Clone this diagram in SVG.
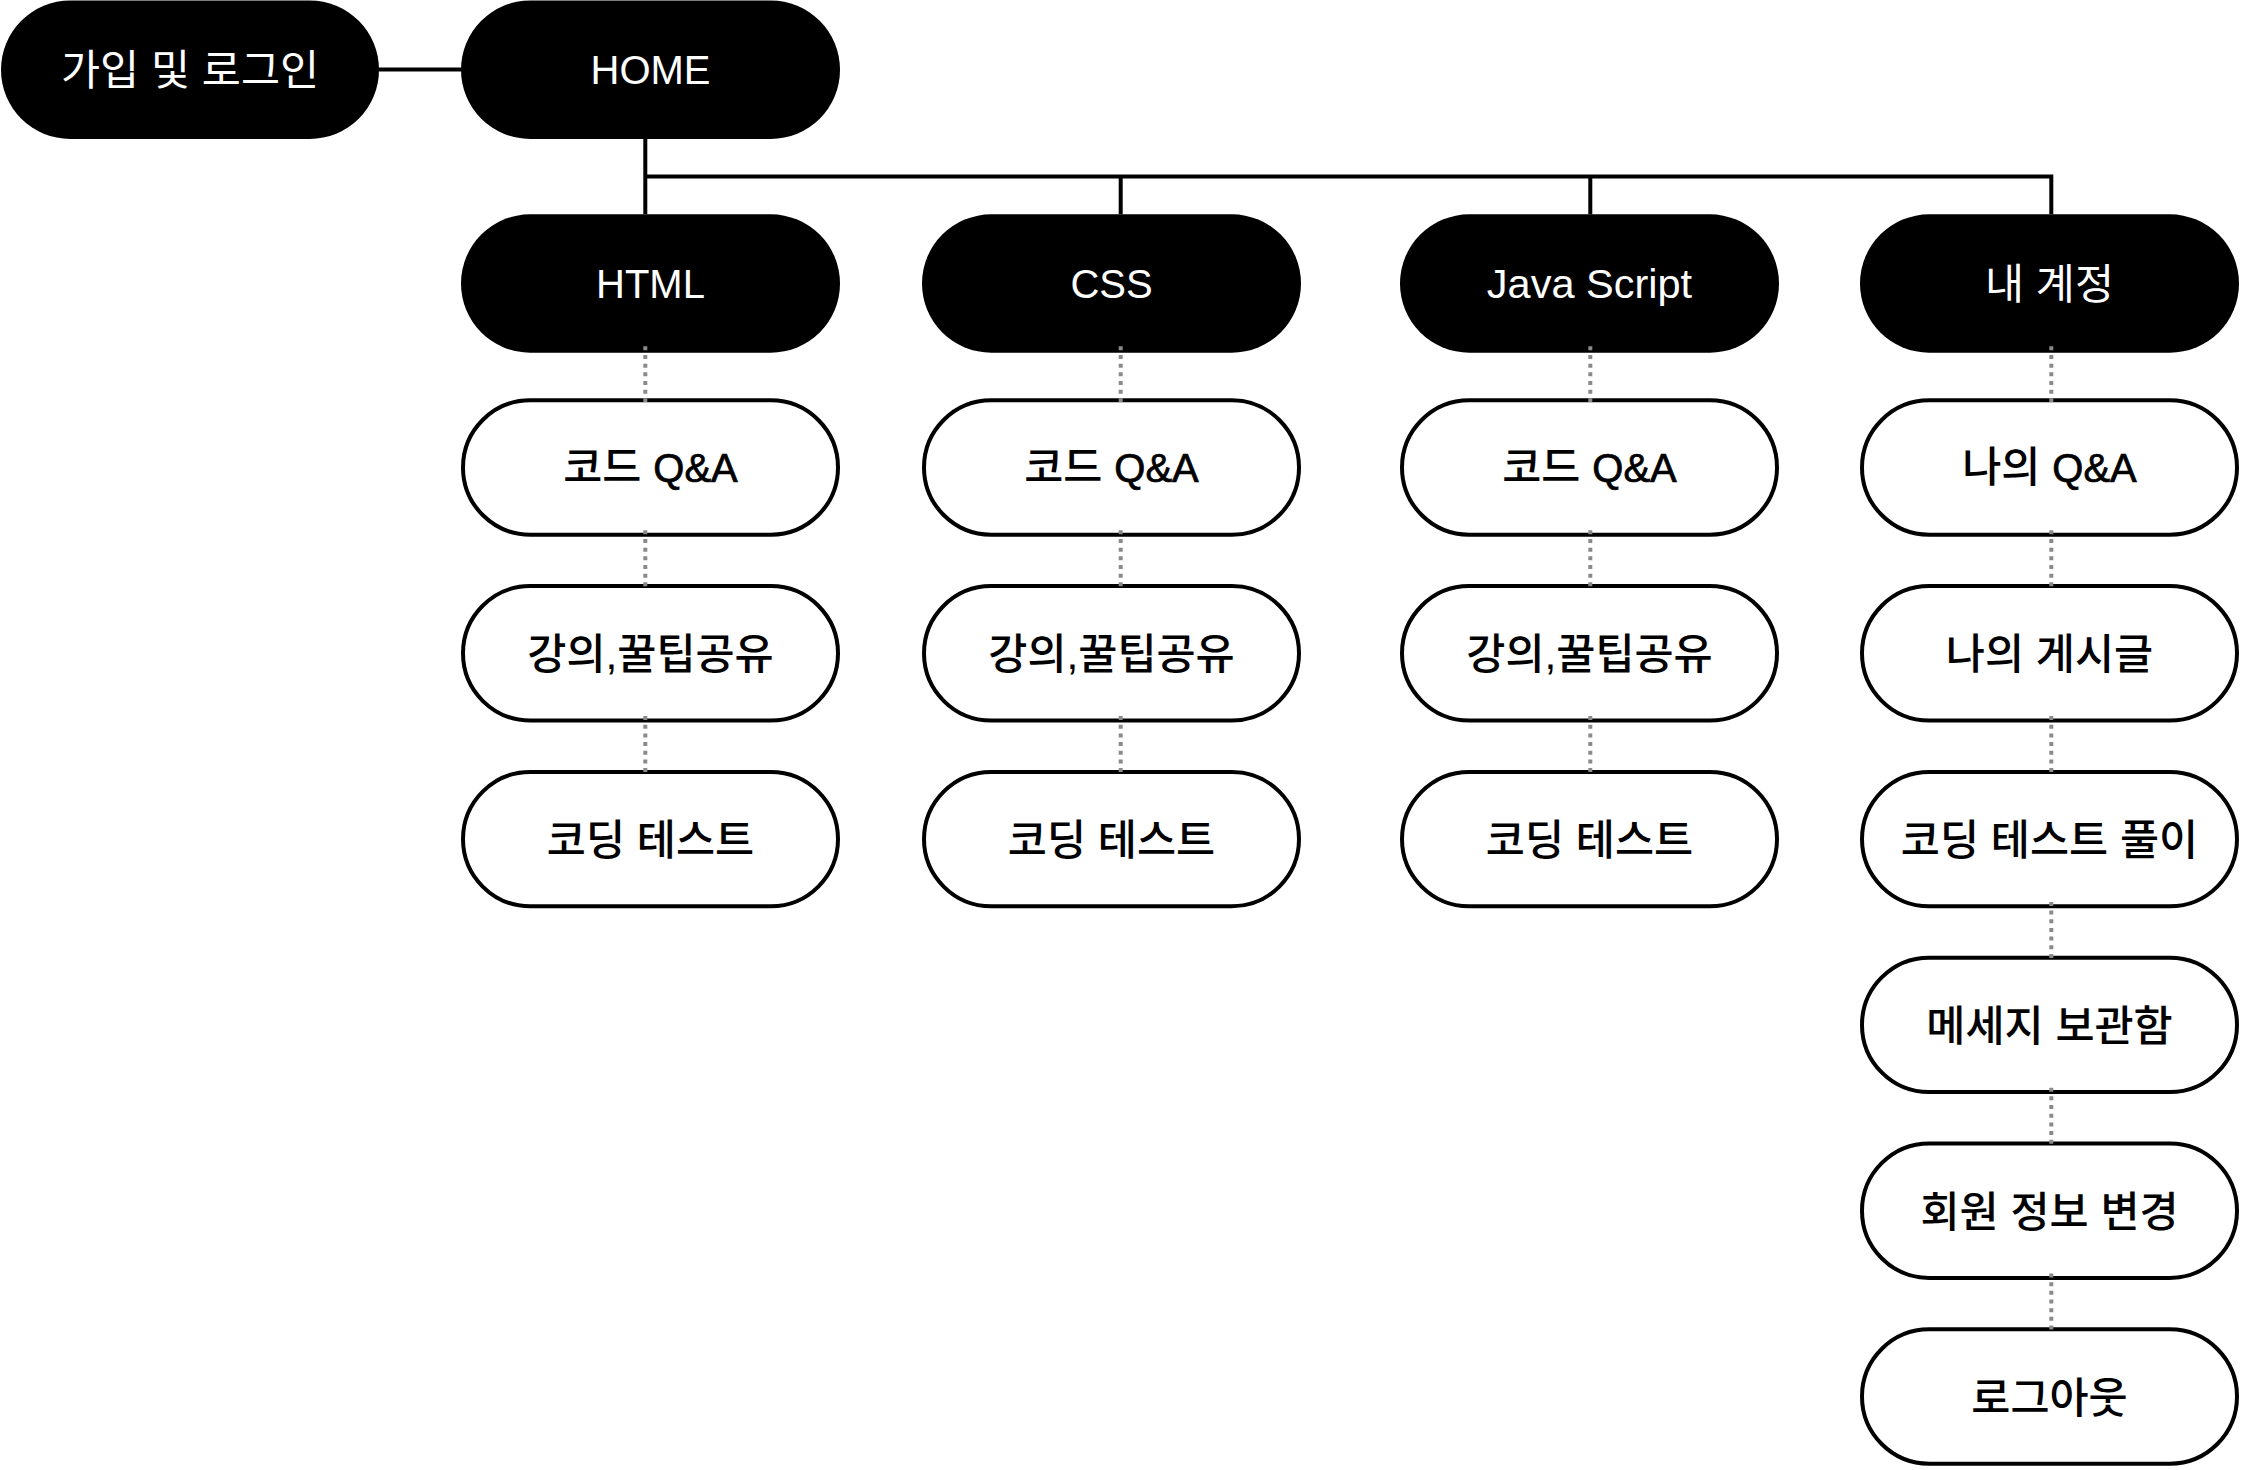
<svg xmlns="http://www.w3.org/2000/svg" width="2244" height="1470" viewBox="0 0 2244 1470">
<style>
.dark rect{fill:#000}
.light rect{fill:#fff;stroke:#000;stroke-width:4}
text{font-family:"Liberation Sans","Noto Sans CJK KR",sans-serif;font-size:42.5px;text-anchor:middle}
.lat{font-size:40px}
.dark text{fill:#fff}
.light text{fill:#000;font-weight:500}
.light .lat{stroke:#000;stroke-width:0.7px}
.solid{stroke:#000;stroke-width:4;fill:none}
.dot{stroke:#8a8a8a;stroke-width:4;fill:none;stroke-dasharray:4 4.67}
</style>
<rect width="2244" height="1470" fill="#fff"/>
<g id="n-login" class="dark"><rect x="1" y="0.5" width="378" height="138.4" rx="69.2"/><text x="190" y="84.5">가입 및 로그인</text></g>
<g id="n-home" class="dark"><rect x="461" y="0.5" width="379" height="138.4" rx="69.2"/><text class="lat" x="650.5" y="84">HOME</text></g>
<g id="n-html" class="dark"><rect x="461" y="214.3" width="379" height="138.4" rx="69.2"/><text class="lat" x="650.5" y="298">HTML</text></g>
<g id="n-css" class="dark"><rect x="922" y="214.3" width="379" height="138.4" rx="69.2"/><text class="lat" x="1111.5" y="298">CSS</text></g>
<g id="n-js" class="dark"><rect x="1400" y="214.3" width="379" height="138.4" rx="69.2"/><text x="1589.5" y="298" style="font-size:41.5px">Java Script</text></g>
<g id="n-account" class="dark"><rect x="1860" y="214.3" width="379" height="138.4" rx="69.2"/><text x="2049.5" y="298.5">내 계정</text></g>

<g id="n-html-qa" class="light"><rect x="463" y="400.3" width="375" height="134.4" rx="67.2"/><text x="650.5" y="482">코드 <tspan class="lat">Q&amp;A</tspan></text></g>
<g id="n-html-tip" class="light"><rect x="463" y="586.1" width="375" height="134.4" rx="67.2"/><text x="650.5" y="668.5">강의,꿀팁공유</text></g>
<g id="n-html-test" class="light"><rect x="463" y="771.9" width="375" height="134.4" rx="67.2"/><text x="650.5" y="854.5">코딩 테스트</text></g>

<g id="n-css-qa" class="light"><rect x="924" y="400.3" width="375" height="134.4" rx="67.2"/><text x="1111.5" y="482">코드 <tspan class="lat">Q&amp;A</tspan></text></g>
<g id="n-css-tip" class="light"><rect x="924" y="586.1" width="375" height="134.4" rx="67.2"/><text x="1111.5" y="668.5">강의,꿀팁공유</text></g>
<g id="n-css-test" class="light"><rect x="924" y="771.9" width="375" height="134.4" rx="67.2"/><text x="1111.5" y="854.5">코딩 테스트</text></g>

<g id="n-js-qa" class="light"><rect x="1402" y="400.3" width="375" height="134.4" rx="67.2"/><text x="1589.5" y="482">코드 <tspan class="lat">Q&amp;A</tspan></text></g>
<g id="n-js-tip" class="light"><rect x="1402" y="586.1" width="375" height="134.4" rx="67.2"/><text x="1589.5" y="668.5">강의,꿀팁공유</text></g>
<g id="n-js-test" class="light"><rect x="1402" y="771.9" width="375" height="134.4" rx="67.2"/><text x="1589.5" y="854.5">코딩 테스트</text></g>

<g id="n-my-qa" class="light"><rect x="1862" y="400.3" width="375" height="134.4" rx="67.2"/><text x="2049.5" y="482">나의 <tspan class="lat">Q&amp;A</tspan></text></g>
<g id="n-my-posts" class="light"><rect x="1862" y="586.1" width="375" height="134.4" rx="67.2"/><text x="2049.5" y="668.5">나의 게시글</text></g>
<g id="n-my-test" class="light"><rect x="1862" y="771.9" width="375" height="134.4" rx="67.2"/><text x="2049.5" y="854.5">코딩 테스트 풀이</text></g>
<g id="n-messages" class="light"><rect x="1862" y="957.7" width="375" height="134.4" rx="67.2"/><text x="2049.5" y="1040.5">메세지 보관함</text></g>
<g id="n-profile" class="light"><rect x="1862" y="1143.5" width="375" height="134.4" rx="67.2"/><text x="2049.5" y="1226.5">회원 정보 변경</text></g>
<g id="n-logout" class="light"><rect x="1862" y="1329.3" width="375" height="134.4" rx="67.2"/><text x="2049.5" y="1412.5">로그아웃</text></g>

<g id="connectors">
<path class="solid" d="M379 69.5H461 M645.3 138.9V214.3 M643.3 176.5H2053.3 M1120.7 176.5V214.3 M1590.3 176.5V214.3 M2051.3 176.5V214.3"/>
<path class="dot" d="M645.3 346.3V402 M645.3 530.3V588 M645.3 716.1V774"/>
<path class="dot" d="M1120.7 346.3V402 M1120.7 530.3V588 M1120.7 716.1V774"/>
<path class="dot" d="M1590.3 346.3V402 M1590.3 530.3V588 M1590.3 716.1V774"/>
<path class="dot" d="M2051.3 346.3V402 M2051.3 530.3V588 M2051.3 716.1V774 M2051.3 901.9V960 M2051.3 1087.7V1146 M2051.3 1273.5V1332"/>
</g>
</svg>
